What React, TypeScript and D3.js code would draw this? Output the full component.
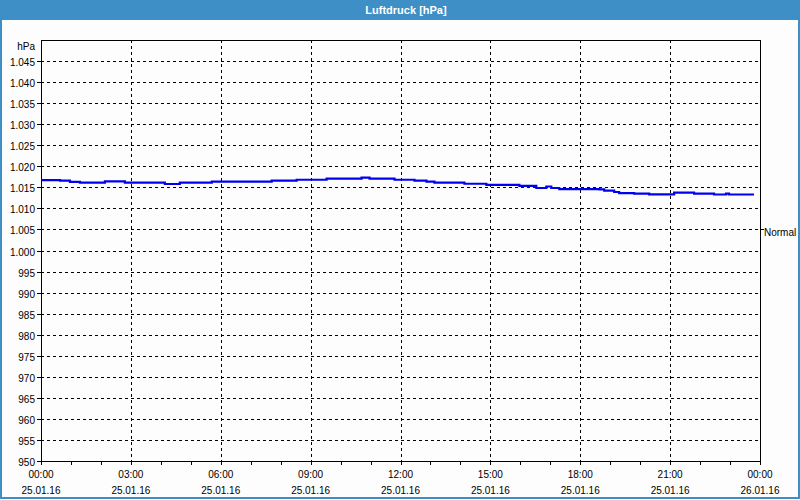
import React from 'react';
import * as d3 from 'd3';

// readings of 25.01.16, step values (time "HH:MM", pressure hPa)
const times = [
  '00:00', '00:38', '00:58', '01:18', '02:08', '02:48', '04:08', '04:38', '05:42', '07:42',
  '08:32', '09:32', '10:42', '10:58', '11:48', '12:28', '12:52', '13:08', '14:08', '14:52',
  '15:58', '16:32', '16:52', '17:02', '17:18', '18:38', '18:48', '19:08', '19:18', '19:48',
  '20:18', '21:08', '21:48', '22:28', '22:52', '22:58', '23:48',
];
const pressure = [
  1016.7, 1016.6, 1016.3, 1016.1, 1016.4, 1016.1, 1015.8, 1016.1, 1016.35, 1016.6,
  1016.8, 1017.05, 1017.3, 1017.05, 1016.8, 1016.6, 1016.35, 1016.1, 1015.85, 1015.6,
  1015.35, 1014.85, 1015.2, 1014.85, 1014.6, 1014.5, 1014.2, 1013.9, 1013.65, 1013.5,
  1013.35, 1013.75, 1013.5, 1013.3, 1013.5, 1013.3, 1013.3,
];
const yTicks = d3.range(950, 1050, 5);
const normalValue = 1005;
const title = 'Luftdruck [hPa]';

const W = 800;
const H = 500;
const margin = { top: 40, right: 40, bottom: 39, left: 41 };
const font = '"Liberation Sans", Arial, sans-serif';

const de = d3.formatLocale({ decimal: ',', thousands: '.', grouping: [3], currency: ['', ' €'] });
const fmtY = de.format(',d');
const fmtTime = d3.timeFormat('%H:%M');
const fmtDate = d3.timeFormat('%d.%m.%y');

const toDate = (s: string) => {
  const [h, m] = s.split(':').map(Number);
  return new Date(2016, 0, 25, h, m);
};

const data = times.map((t, i) => ({ date: toDate(t), value: pressure[i] }));

const App = () => {
  const x0 = margin.left;
  const x1 = W - margin.right;
  const y0 = margin.top;
  const y1 = H - margin.bottom;

  const x = d3.scaleTime()
    .domain([new Date(2016, 0, 25, 0, 0), new Date(2016, 0, 26, 0, 0)])
    .range([x0, x1]);
  const y = d3.scaleLinear().domain([950, 1050]).range([y1, y0]);

  const majorX = x.ticks(d3.timeHour.every(3)!);
  const minorX = x.ticks(d3.timeHour.every(1)!);

  const line = d3.line<{ date: Date; value: number }>()
    .x(d => x(d.date))
    .y(d => y(d.value))
    .curve(d3.curveStepAfter);

  return (
    <svg width={W} height={H} style={{ position: 'fixed', left: 0, top: 0, display: 'block' }}
      fontFamily={font} fontSize={10}>
      <rect x={0} y={0} width={W} height={H} fill="#fcfdfc" />
      {/* title bar */}
      <rect x={0} y={0} width={W} height={20} fill="#3d8fc6" />
      <text x={406} y={14} textAnchor="middle" fill="#fff" fontWeight="bold" fontSize={11}>{title}</text>
      {/* frame */}
      <rect x={0} y={20} width={2} height={479} fill="#3d8fc6" />
      <rect x={798} y={20} width={2} height={479} fill="#3d8fc6" />
      <rect x={0} y={497} width={W} height={2} fill="#3d8fc6" />

      {/* horizontal grid + y labels */}
      {yTicks.map(v => (
        <g key={v}>
          {v > 950 && (
            <line x1={x0} x2={x1} y1={Math.round(y(v)) + 0.5} y2={Math.round(y(v)) + 0.5}
              stroke="#000" strokeDasharray="3,3" />
          )}
          <line x1={x0 - 4} x2={x0} y1={Math.round(y(v)) + 0.5} y2={Math.round(y(v)) + 0.5} stroke="#000" />
          <text x={35} y={Math.round(y(v)) + 5} textAnchor="end" fill="#000">{fmtY(v)}</text>
        </g>
      ))}
      <text x={35} y={50} textAnchor="end" fill="#000">hPa</text>

      {/* vertical grid */}
      {majorX.slice(1, -1).map(d => (
        <line key={+d} x1={Math.round(x(d)) + 0.5} x2={Math.round(x(d)) + 0.5} y1={y0} y2={y1}
          stroke="#000" strokeDasharray="3,3" />
      ))}
      {minorX.map(d => (
        <line key={'m' + +d} x1={Math.round(x(d)) + 0.5} x2={Math.round(x(d)) + 0.5} y1={y1} y2={y1 + 4}
          stroke="#000" />
      ))}
      {majorX.map(d => (
        <g key={'l' + +d}>
          <text x={x(d)} y={478} textAnchor="middle" fill="#000">{fmtTime(d)}</text>
          <text x={x(d)} y={494} textAnchor="middle" fill="#000">{fmtDate(d)}</text>
        </g>
      ))}

      {/* plot frame */}
      <rect x={x0 + 0.5} y={y0 + 0.5} width={x1 - x0} height={y1 - y0} fill="none" stroke="#000" />

      {/* normal marker */}
      <line x1={x1} x2={x1 + 4} y1={Math.round(y(normalValue)) + 0.5} y2={Math.round(y(normalValue)) + 0.5} stroke="#000" />
      <text x={764} y={Math.round(y(normalValue)) + 7} fill="#000">Normal</text>

      <path d={line(data) ?? ''} fill="none" stroke="#0000ee" strokeWidth={2.2} />
    </svg>
  );
};

export default App;
